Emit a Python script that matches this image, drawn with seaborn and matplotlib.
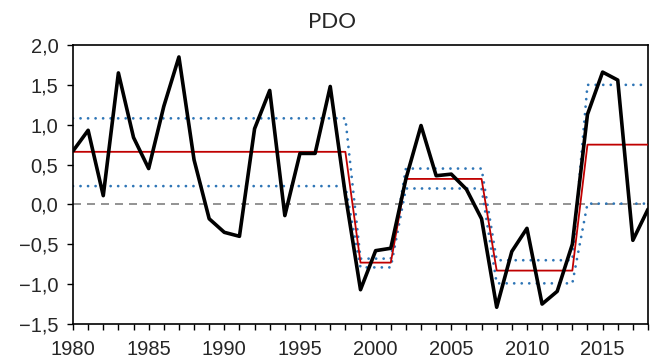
import numpy as np
import pandas as pd
import seaborn as sns
import matplotlib
matplotlib.use("Agg")
import matplotlib.pyplot as plt
from matplotlib.ticker import MultipleLocator, FuncFormatter

years = list(range(1980, 2019))
pdo = [0.67, 0.93, 0.11, 1.65, 0.84, 0.45, 1.23, 1.85, 0.56, -0.18,
       -0.35, -0.40, 0.95, 1.43, -0.14, 0.64, 0.64, 1.48, 0.12, -1.07,
       -0.58, -0.55, 0.32, 0.99, 0.36, 0.38, 0.19, -0.18, -1.29, -0.59,
       -0.30, -1.25, -1.09, -0.50, 1.13, 1.66, 1.56, -0.45, -0.06]

# regime means and confidence bounds (per segment)
seg_start = [1980, 1999, 2002, 2008, 2014]
seg_end = [1998, 2001, 2007, 2013, 2018]
seg_mean = [0.66, -0.73, 0.32, -0.83, 0.75]
seg_upper = [1.08, -0.68, 0.45, -0.70, 1.50]
seg_lower = [0.23, -0.79, 0.20, -0.99, 0.01]

def expand(vals):
    out = []
    for s, e, v in zip(seg_start, seg_end, vals):
        out += [v] * (e - s + 1)
    return out

df = pd.DataFrame({
    "year": years,
    "pdo": pdo,
    "mean": expand(seg_mean),
    "upper": expand(seg_upper),
    "lower": expand(seg_lower),
})

sns.set_style("white")
plt.rcParams["font.family"] = ["Liberation Sans", "DejaVu Sans"]

fig = plt.figure(figsize=(6.52, 3.64), dpi=100)
ax = fig.add_axes([73 / 652, 1 - 324 / 364, (648 - 73) / 652, (324 - 45) / 364])

ax.axhline(0, color="#808080", lw=1.2, dashes=(4.8, 3.6), zorder=1)
blue = "#2E75B6"
for col in ["upper", "lower"]:
    sns.lineplot(data=df, x="year", y=col, ax=ax, color=blue, lw=2.0,
                 dashes=False, zorder=2)
    ln = ax.lines[-1]
    ln.set_linestyle((0, (0.01, 2.7)))
    ln.set_dash_capstyle("round")
sns.lineplot(data=df, x="year", y="mean", ax=ax, color="#C00000", lw=1.3, zorder=3)
sns.lineplot(data=df, x="year", y="pdo", ax=ax, color="black", lw=2.6, zorder=4)

ax.set_xlim(1980, 2018)
ax.set_ylim(-1.5, 2.0)
ax.xaxis.set_major_locator(MultipleLocator(5))
ax.xaxis.set_minor_locator(MultipleLocator(1))
ax.yaxis.set_major_locator(MultipleLocator(0.5))
ax.yaxis.set_major_formatter(FuncFormatter(lambda v, p: f"{v:.1f}".replace(".", ",").replace("-", "\u2212")))
ax.set_xlabel("")
ax.set_ylabel("")
ax.tick_params(axis="both", which="both", direction="out", length=4.5, width=1.0,
               color="black", labelsize=14.5, bottom=True, left=True)
ax.tick_params(axis="x", which="major", pad=7)
ax.tick_params(axis="y", which="major", pad=6)
for sp in ax.spines.values():
    sp.set_color("black")
    sp.set_linewidth(1.2)

fig.text(332 / 652, 1 - 28 / 364, "PDO", ha="center", va="baseline",
         fontsize=16, family=["Lato", "DejaVu Sans"])

fig.savefig("out.png", dpi=100)
